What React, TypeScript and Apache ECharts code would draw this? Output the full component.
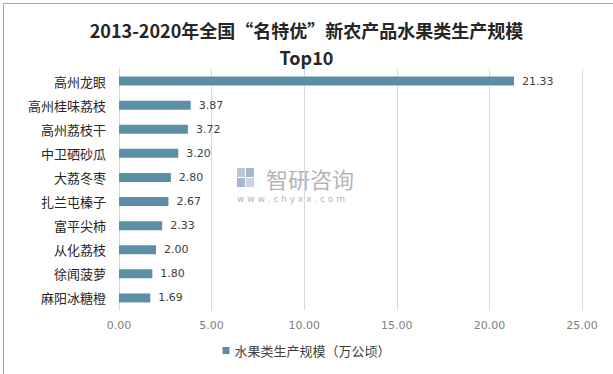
import React, { useEffect, useRef } from "react";
import * as echarts from "echarts";

const categories = ["高州龙眼", "高州桂味荔枝", "高州荔枝干", "中卫硒砂瓜", "大荔冬枣", "扎兰屯榛子", "富平尖柿", "从化荔枝", "徐闻菠萝", "麻阳冰糖橙"];
const values = [21.33, 3.87, 3.72, 3.2, 2.8, 2.67, 2.33, 2.0, 1.8, 1.69];
const seriesName = "水果类生产规模（万公顷）";
const titleLines = ["2013-2020年全国“名特优”新农产品水果类生产规模", "Top10"];

export default function App() {
  const ref = useRef<HTMLDivElement>(null);
  useEffect(() => {
    if (!ref.current) return;
    const chart = echarts.init(ref.current, undefined, { renderer: "svg" });
    const font = "'Noto Sans CJK SC', 'Microsoft YaHei', sans-serif";
    chart.setOption({
      animation: false,
      backgroundColor: "#ffffff",
      textStyle: { fontFamily: font },
      title: {
        text: titleLines.join("\n"),
        left: "center",
        top: 11,
        textStyle: { fontSize: 18, fontWeight: "bold", color: "#262626", lineHeight: 27, fontFamily: font },
      },
      legend: {
        bottom: 12,
        left: "center",
        icon: "rect",
        itemWidth: 7,
        itemHeight: 7,
        itemGap: 4,
        textStyle: { fontSize: 13, color: "#404040", fontFamily: font },
        data: [seriesName],
      },
      grid: { left: 119, right: 31, top: 69, bottom: 64, containLabel: false },
      xAxis: {
        type: "value",
        min: 0,
        max: 25,
        interval: 5,
        axisLine: { show: false },
        axisTick: { show: false },
        splitLine: { show: true, lineStyle: { color: "#d9d9d9", width: 1 } },
        axisLabel: {
          formatter: (v: number) => v.toFixed(2),
          color: "#808080",
          fontSize: 11,
          margin: 10,
          fontFamily: "'DejaVu Sans', sans-serif",
        },
      },
      yAxis: {
        type: "category",
        inverse: true,
        data: categories,
        axisLine: { show: true, lineStyle: { color: "#d9d9d9" } },
        axisTick: { show: false },
        axisLabel: { color: "#262626", fontSize: 13, margin: 13, fontFamily: font },
      },
      series: [
        {
          name: seriesName,
          type: "bar",
          data: values,
          barWidth: 9,
          itemStyle: { color: "#5b8fa6" },
          label: {
            show: true,
            position: "right",
            distance: 8,
            formatter: (p: any) => Number(p.value).toFixed(2),
            color: "#404040",
            fontSize: 11,
            fontFamily: "'DejaVu Sans', sans-serif",
          },
        },
      ],
      graphic: [
        {
          type: "rect",
          left: 1,
          top: 1,
          shape: { width: 610, height: 371 },
          style: { fill: "none", stroke: "#a6a6a6", lineWidth: 1 },
          silent: true,
        },
        {
          type: "group",
          left: 237,
          top: 166,
          silent: true,
          children: [
            { type: "rect", shape: { x: 0, y: 1, width: 8, height: 9 }, style: { fill: "#b9c6db" } },
            { type: "rect", shape: { x: 9, y: 1, width: 8, height: 9 }, style: { fill: "#a7b7d1" } },
            { type: "rect", shape: { x: 0, y: 11, width: 8, height: 9 }, style: { fill: "#a7b7d1" } },
            { type: "rect", shape: { x: 9, y: 11, width: 8, height: 9 }, style: { fill: "#c8d3e3" } },
            {
              type: "text",
              x: 29,
              y: -1,
              style: { text: "智研咨询", fontSize: 22, fill: "#b5b5b5", fontFamily: font, letterSpacing: 5, lineHeight: 24 },
            },
            {
              type: "text",
              x: 0,
              y: 27,
              style: { text: "w w w . c h y x x . c o m", fontSize: 9, fill: "#b5b5b5", fontFamily: "'DejaVu Sans', sans-serif", letterSpacing: 2.2, lineHeight: 10 },
            },
          ],
        },
      ],
    });
    return () => chart.dispose();
  }, []);
  return <div ref={ref} style={{ position: "absolute", left: 0, top: 0, width: 613, height: 374 }} />;
}
